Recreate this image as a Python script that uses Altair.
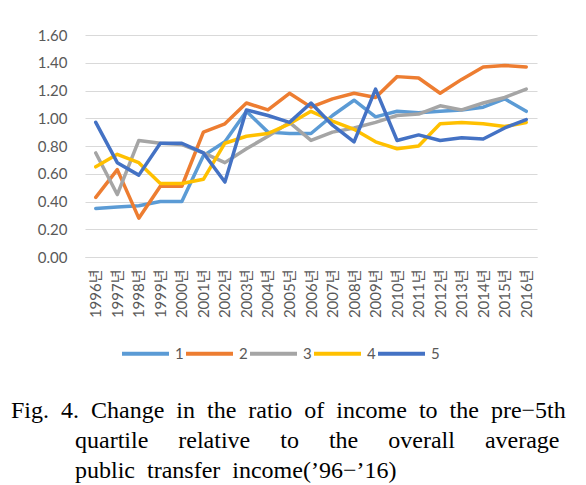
import altair as alt
import pandas as pd

years = [str(y) for y in range(1996, 2017)]
year_labels = [y + "년" for y in years]
series_names = ["1", "2", "3", "4", "5"]
colors = ["#5B9BD5", "#ED7D31", "#A5A5A5", "#FFC000", "#4472C4"]

s1 = [0.35, 0.36, 0.37, 0.40, 0.40, 0.73, 0.83, 1.05, 0.90, 0.89, 0.89, 1.02, 1.13, 1.01, 1.05, 1.04, 1.05, 1.06, 1.08, 1.14, 1.05]
s2 = [0.43, 0.63, 0.28, 0.51, 0.51, 0.90, 0.96, 1.11, 1.06, 1.18, 1.08, 1.14, 1.18, 1.15, 1.30, 1.29, 1.18, 1.28, 1.37, 1.38, 1.37]
s3 = [0.75, 0.45, 0.84, 0.82, 0.81, 0.75, 0.68, 0.78, 0.87, 0.97, 0.84, 0.90, 0.93, 0.97, 1.02, 1.03, 1.09, 1.06, 1.11, 1.15, 1.21]
s4 = [0.65, 0.74, 0.68, 0.53, 0.53, 0.56, 0.82, 0.87, 0.89, 0.96, 1.05, 0.98, 0.92, 0.83, 0.78, 0.80, 0.96, 0.97, 0.96, 0.94, 0.97]
s5 = [0.97, 0.68, 0.59, 0.82, 0.82, 0.75, 0.54, 1.06, 1.02, 0.97, 1.11, 0.95, 0.83, 1.21, 0.84, 0.88, 0.84, 0.86, 0.85, 0.93, 0.99]
all_series = [s1, s2, s3, s4, s5]

NB = "\u00a0"
caption_lines = [
    "Fig." + NB + " 4." + NB + " Change" + NB + " in" + NB + " the" + NB + " ratio" + NB + " of"
    + NB + " income" + NB + " to" + NB + " the" + NB + " pre\u22125th",
    ("quartile" + NB * 4 + " relative" + NB * 4 + " to" + NB * 4 + " the" + NB * 4
     + " overall" + NB * 4 + " average"),
    "public" + NB + " transfer" + NB + " income(\u201996\u2212\u201916)",
]

rows = []
for name, vals in zip(series_names, all_series):
    for lab, v in zip(year_labels, vals):
        rows.append({"year": lab, "series": name, "value": v})
df = pd.DataFrame(rows)

FONT = "Lato, 'Noto Sans CJK KR', sans-serif"

lines = alt.Chart(df).mark_line(strokeWidth=3.5, strokeJoin="round", strokeCap="round").encode(
    x=alt.X("year:N", sort=year_labels, title=None,
            scale=alt.Scale(type="point", padding=0.5),
            axis=alt.Axis(labelAngle=-90, labelPadding=12, ticks=False, domain=True,
                          domainColor="#d9d9d9", grid=False, labelFont=FONT,
                          labelFontSize=15, labelColor="#595959")),
    y=alt.Y("value:Q", title=None, scale=alt.Scale(domain=[0, 1.6], nice=False),
            axis=alt.Axis(values=[0, 0.2, 0.4, 0.6, 0.8, 1.0, 1.2, 1.4, 1.6], format=".2f",
                          ticks=False, domain=False, gridColor="#d9d9d9", gridWidth=1,
                          labelPadding=18, labelFont=FONT, labelFontSize=15,
                          labelColor="#595959")),
    color=alt.Color("series:N", sort=series_names,
                    scale=alt.Scale(domain=series_names, range=colors),
                    legend=alt.Legend(title=None, orient="none", direction="horizontal",
                                      legendX=35, legendY=293, symbolType="stroke",
                                      symbolSize=2209, symbolStrokeWidth=4,
                                      labelFont=FONT, labelFontSize=15, labelColor="#595959",
                                      labelOffset=4, columnPadding=-11)),
    order=alt.Order("series:N"),
)

dummy = pd.DataFrame({"a": [0]})
cap_x = [-74, -10, -10]
cap_y = [383, 413, 443]
caps = []
for line, cx, cy in zip(caption_lines, cap_x, cap_y):
    caps.append(
        alt.Chart(dummy).mark_text(align="left", baseline="alphabetic", font="Liberation Serif",
                                   fontSize=24, color="#000000").encode(
            x=alt.value(cx), y=alt.value(cy), text=alt.value(line)
        )
    )

chart = alt.layer(lines, *caps).properties(
    width=452, height=222,
    autosize=alt.AutoSizeParams(type="none"),
    padding={"left": 77, "top": 27, "right": 41, "bottom": 226},
    background="white",
).configure_view(stroke=None)

chart.save("out.html", embed_options={"renderer": "svg", "actions": False})
